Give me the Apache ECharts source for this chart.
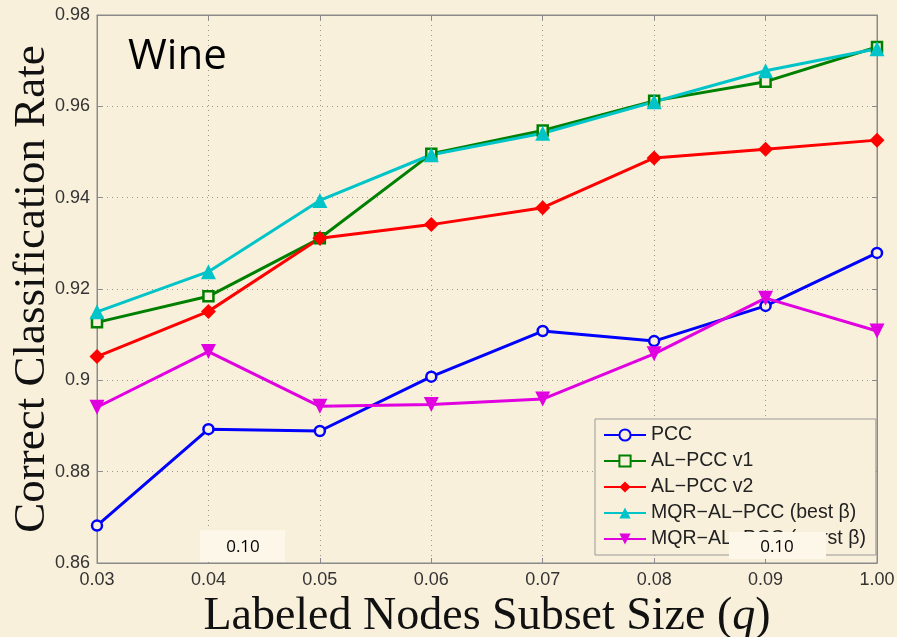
<!DOCTYPE html>
<html>
<head>
<meta charset="utf-8">
<script src="https://cdn.jsdelivr.net/npm/echarts@6/dist/echarts.min.js"></script>
<style>
  html, body { margin: 0; padding: 0; background: #f9f0dc; }
  #main { width: 897px; height: 637px; }
</style>
</head>
<body>
<div id="main"></div>
<script>
// x categories (subset size q)
var qLabels = ['0.03', '0.04', '0.05', '0.06', '0.07', '0.08', '0.09', '1.00'];

// correct classification rate per method
var pcc      = [0.8682, 0.8893, 0.8889, 0.9008, 0.9108, 0.9086, 0.9163, 0.9279];
var alPccV1  = [0.9127, 0.9184, 0.9311, 0.9496, 0.9547, 0.9612, 0.9654, 0.9730];
var alPccV2  = [0.9052, 0.9151, 0.9311, 0.9341, 0.9378, 0.9487, 0.9506, 0.9526];
var mqrBest  = [0.9150, 0.9238, 0.9394, 0.9494, 0.9541, 0.9610, 0.9678, 0.9726];
var mqrWorst = [0.8941, 0.9063, 0.8943, 0.8947, 0.8959, 0.9058, 0.9180, 0.9108];

var seriesNames = ['PCC', 'AL\u2212PCC v1', 'AL\u2212PCC v2', 'MQR\u2212AL\u2212PCC (best \u03b2)', 'MQR\u2212AL\u2212PCC (worst \u03b2)'];

var bg = '#f9f0dc';
var myChart = echarts.init(document.getElementById('main'));

function mkSeries(name, data, color, symbol, size, filled, rotate) {
    return {
        name: name,
        type: 'line',
        data: data,
        symbol: symbol,
        symbolSize: size,
        symbolRotate: rotate || 0,
        showAllSymbol: true,
        lineStyle: { color: color, width: 3 },
        itemStyle: {
            color: filled ? color : bg,
            borderColor: color,
            borderWidth: filled ? 0 : 2.5
        },
        emphasis: { disabled: true },
        z: 3
    };
}

var gridLine = { show: true, lineStyle: { color: '#9a968c', type: [1, 4], width: 1 } };
var axisCol = '#8a8a8a';

myChart.setOption({
    backgroundColor: bg,
    animation: false,
    grid: {
        left: 97, top: 15, right: 20, bottom: 74,
        outerBoundsMode: 'none', containLabel: false,
        show: true, borderColor: axisCol, borderWidth: 1
    },
    legend: {
        orient: 'vertical',
        left: 595,
        top: 419,
        itemWidth: 42,
        itemHeight: 14,
        itemGap: 6,
        padding: [6, 10, 6, 8],
        backgroundColor: bg,
        borderColor: '#999',
        borderWidth: 1,
        textStyle: { fontFamily: 'Liberation Sans', fontSize: 19.5, color: '#222' },
        data: seriesNames
    },
    xAxis: [{
        type: 'category',
        data: qLabels,
        boundaryGap: false,
        axisLine: { lineStyle: { color: axisCol } },
        axisTick: { inside: true, length: 5, lineStyle: { color: axisCol } },
        axisLabel: { fontFamily: 'Liberation Sans', fontSize: 18, color: '#333', margin: 8 },
        splitLine: gridLine,
        name: '{t|Labeled Nodes Subset Size (}{q|q}{t|)}',
        nameLocation: 'middle',
        nameGap: 17,
        nameTextStyle: {
            rich: {
                t: { fontFamily: 'Liberation Serif', fontSize: 46, color: '#111' },
                q: { fontFamily: 'Liberation Serif', fontStyle: 'italic', fontSize: 46, color: '#111' }
            }
        }
    }, {
        type: 'category',
        data: qLabels,
        boundaryGap: false,
        position: 'top',
        axisLine: { lineStyle: { color: axisCol } },
        axisTick: { inside: true, length: 5, lineStyle: { color: axisCol } },
        axisLabel: { show: false }
    }],
    yAxis: [{
        type: 'value',
        min: 0.86,
        max: 0.98,
        interval: 0.02,
        axisLine: { show: true, lineStyle: { color: axisCol } },
        axisTick: { show: true, inside: true, length: 5, lineStyle: { color: axisCol } },
        axisLabel: {
            fontFamily: 'Liberation Sans', fontSize: 18, color: '#333', margin: 7,
            formatter: function (v) { return String(parseFloat(v.toFixed(2))); }
        },
        splitLine: gridLine,
        name: 'Correct Classification Rate',
        nameLocation: 'middle',
        nameMoveOverlap: false,
        nameGap: 42,
        nameTextStyle: { fontFamily: 'Liberation Serif', fontSize: 45, color: '#111' }
    }, {
        type: 'value',
        min: 0.86,
        max: 0.98,
        interval: 0.02,
        position: 'right',
        axisLine: { show: true, lineStyle: { color: axisCol } },
        axisTick: { show: true, inside: true, length: 5, lineStyle: { color: axisCol } },
        axisLabel: { show: false },
        splitLine: { show: false }
    }],
    series: [
        mkSeries(seriesNames[0], pcc, '#0000ff', 'circle', 10, false),
        mkSeries(seriesNames[1], alPccV1, '#008000', 'rect', 10, false),
        mkSeries(seriesNames[2], alPccV2, '#ff0000', 'diamond', 15, true),
        mkSeries(seriesNames[3], mqrBest, '#00c4c8', 'triangle', 15, true),
        mkSeries(seriesNames[4], mqrWorst, '#e000e0', 'triangle', 15, true, 180)
    ],
    graphic: [
        { type: 'text', left: 128, top: 36, z: 10,
          style: { text: 'Wine', font: '42px "Open Sans"', fill: '#000' } },
        { type: 'rect', shape: { x: 200, y: 530, width: 85, height: 32 }, z: 100,
          style: { fill: '#fdf7e9' } },
        { type: 'text', x: 243, y: 547, z: 101,
          style: { text: '0.10', font: '17px "Open Sans"', fill: '#000', align: 'center', verticalAlign: 'middle' } },
        { type: 'rect', shape: { x: 729, y: 532, width: 97, height: 27 }, z: 100,
          style: { fill: '#fdf7e9' } },
        { type: 'text', x: 777, y: 547, z: 101,
          style: { text: '0.10', font: '17px "Open Sans"', fill: '#000', align: 'center', verticalAlign: 'middle' } }
    ]
});
</script>
</body>
</html>
